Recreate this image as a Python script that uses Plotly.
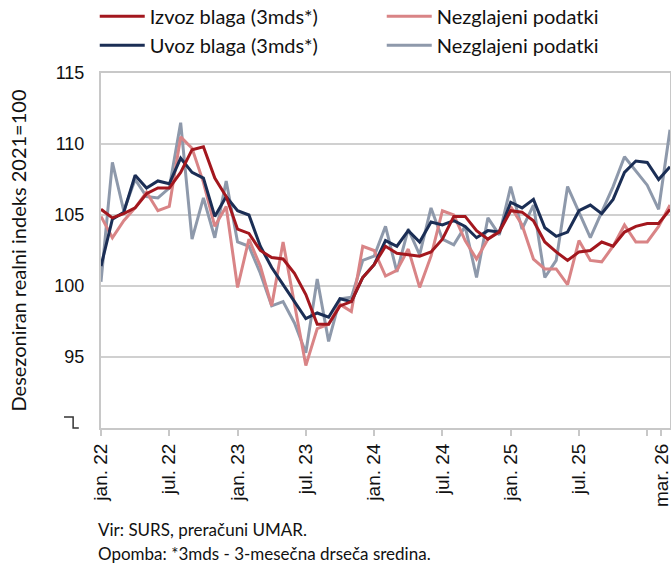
import plotly.graph_objects as go

months = list(range(51))  # jan. 22 ... mar. 26

izvoz_3mds = [105.4, 104.8, 105.1, 105.5, 106.5, 106.9, 106.9, 108.0, 109.6, 109.8,
              107.6, 106.3, 104.0, 103.7, 102.5, 102.0, 101.9, 100.9, 99.4, 97.3,
              97.3, 98.6, 98.9, 100.6, 101.5, 102.8, 102.3, 102.2, 102.1, 102.4,
              103.3, 104.9, 104.9, 103.9, 103.3, 103.8, 105.3, 105.2, 104.6, 103.1,
              102.4, 101.8, 102.4, 102.5, 103.1, 102.8, 103.8, 104.2, 104.4, 104.4,
              105.4]
izvoz_raw = [104.9, 103.4, 104.6, 105.5, 106.6, 105.3, 105.6, 110.5, 109.7, 107.3,
             104.2, 105.6, 99.9, 103.3, 101.4, 98.6, 103.1, 98.6, 94.4, 97.0,
             97.3, 98.7, 98.2, 102.8, 102.5, 100.7, 101.1, 102.6, 99.9, 102.1,
             105.3, 105.0, 103.2, 101.9, 103.3, 103.9, 105.6, 104.3, 101.9, 101.2,
             101.2, 100.1, 103.2, 101.8, 101.7, 102.8, 104.3, 103.1, 103.1, 104.2,
             105.7]
uvoz_3mds = [101.4, 104.7, 105.2, 107.8, 106.9, 107.4, 107.2, 109.0, 108.0, 107.6,
             104.9, 106.3, 105.3, 105.0, 102.8, 101.3, 100.1, 98.9, 97.7, 98.1,
             97.8, 99.1, 98.9, 100.6, 101.5, 103.2, 102.8, 103.9, 103.1, 104.5,
             104.3, 104.6, 104.2, 103.4, 103.9, 103.8, 105.9, 105.5, 106.1, 104.1,
             103.5, 103.8, 105.3, 105.7, 105.1, 106.1, 108.0, 108.8, 108.7, 107.5,
             108.4]
uvoz_raw = [100.3, 108.7, 105.3, 107.5, 106.3, 106.2, 106.9, 111.5, 103.3, 106.2,
            103.4, 107.4, 103.1, 102.8, 100.9, 98.6, 98.9, 97.4, 95.3, 100.5,
            96.1, 99.1, 99.2, 101.8, 102.1, 104.2, 101.0, 104.0, 102.2, 105.5,
            103.3, 102.9, 104.2, 100.6, 104.8, 103.6, 107.0, 104.0, 105.7, 100.6,
            101.8, 107.0, 105.2, 103.4, 105.2, 107.0, 109.1, 108.1, 107.1, 105.4,
            111.0]

x_tickvals = [0, 6, 12, 18, 24, 30, 36, 42, 48, 49.25]
x_ticktext = ["jan. 22", "jul. 22", "jan. 23", "jul. 23", "jan. 24", "jul. 24",
              "jan. 25", "jul. 25", "", "mar. 26"]
y_tickvals = [95, 100, 105, 110, 115]
y_ticktext = ["95", "100", "105", "110", "115"]

C_RED = "#A3171E"
C_RED_L = "#D98486"
C_NAVY = "#1B2E55"
C_GRAY = "#8E99AB"

TXT_FONT = "Lato, Noto Sans, sans-serif"

fig = go.Figure()
fig.add_trace(go.Scatter(x=months, y=uvoz_raw, mode="lines", name="Nezglajeni podatki",
                         line=dict(color=C_GRAY, width=3), legendrank=4))
fig.add_trace(go.Scatter(x=months, y=izvoz_raw, mode="lines", name="Nezglajeni podatki",
                         line=dict(color=C_RED_L, width=3), legendrank=2))
fig.add_trace(go.Scatter(x=months, y=uvoz_3mds, mode="lines", name="Uvoz blaga (3mds*)",
                         line=dict(color=C_NAVY, width=3), legendrank=3))
fig.add_trace(go.Scatter(x=months, y=izvoz_3mds, mode="lines", name="Izvoz blaga (3mds*)",
                         line=dict(color=C_RED, width=3), legendrank=1))

fig.update_layout(
    width=671, height=563,
    margin=dict(l=101, r=1, t=73, b=135, autoexpand=False),
    paper_bgcolor="white", plot_bgcolor="white",
    font=dict(family="Liberation Sans, Arial, sans-serif", color="#111111"),
    showlegend=True,
    legend=dict(orientation="h", x=-0.011, xanchor="left", y=1.215, yanchor="top",
                font=dict(family=TXT_FONT, size=20, color="#111111"),
                entrywidth=227, entrywidthmode="pixels", itemwidth=45,
                traceorder="normal", bgcolor="rgba(0,0,0,0)", tracegroupgap=0),
    xaxis=dict(range=[0, 50], tickmode="array", tickvals=x_tickvals, ticktext=x_ticktext,
               tickangle=-90, tickfont=dict(size=19, family="Liberation Sans, Arial"),
               ticklabeloverflow="allow",
               showgrid=False, zeroline=False, showline=True, linecolor="#C8C8C8",
               linewidth=2, mirror=True, ticks="outside", ticklen=6, tickcolor="#C8C8C8",
               tickwidth=2),
    yaxis=dict(range=[90, 115], tickmode="array", tickvals=y_tickvals, ticktext=y_ticktext,
               tickfont=dict(size=18, family="Liberation Sans, Arial"),
               showgrid=True, gridcolor="#D0D0D0", gridwidth=2, zeroline=False,
               showline=True, linecolor="#C8C8C8", linewidth=2, mirror=True,
               ticks="", ticklabelstandoff=11,
               title=dict(text="Desezoniran realni indeks 2021=100",
                          font=dict(size=20, family=TXT_FONT), standoff=22)),
)

# darker line at 100
fig.add_shape(type="line", xref="paper", yref="y", x0=0, x1=1, y0=100, y1=100,
              line=dict(color="#7F7F7F", width=2), layer="below")

# axis break symbol
fig.add_shape(type="path", xref="paper", yref="paper",
              path="M -0.065 0.031 L -0.049 0.031 L -0.049 0.0 L -0.039 0.0",
              line=dict(color="#333333", width=1.5))

fig.add_annotation(xref="paper", yref="paper", x=-0.008, y=-0.285, xanchor="left",
                   yanchor="middle", showarrow=False, align="left",
                   text="Vir: SURS, preračuni UMAR.",
                   font=dict(family=TXT_FONT, size=17, color="#111111"))
fig.add_annotation(xref="paper", yref="paper", x=-0.008, y=-0.353, xanchor="left",
                   yanchor="middle", showarrow=False, align="left",
                   text="Opomba: *3mds - 3-mesečna drseča sredina.",
                   font=dict(family=TXT_FONT, size=17, color="#111111"))

fig.write_html("out.html", config={"displayModeBar": False},
               post_script="document.body.style.margin='0';document.body.style.overflow='hidden';")
